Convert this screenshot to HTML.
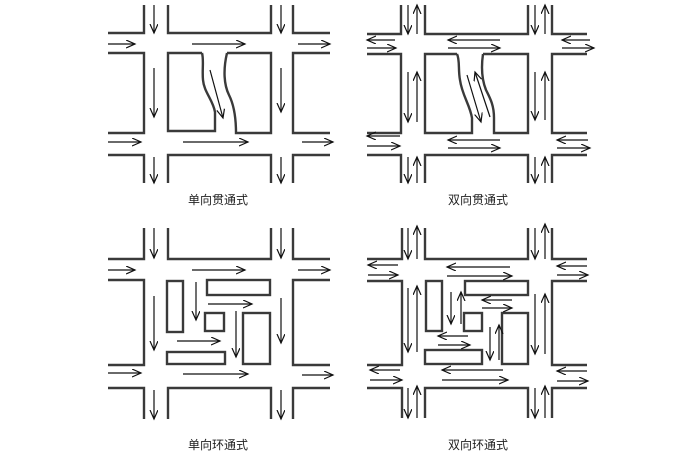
<!DOCTYPE html>
<html><head><meta charset="utf-8"><style>
html,body{margin:0;padding:0;background:#fff;}
svg{display:block}
.r{fill:none;stroke:#3a3a3a;stroke-width:2.4;}
.a{fill:none;stroke:#111;stroke-width:1.2;marker-end:url(#m);}
text{font-family:"Liberation Sans","Noto Sans CJK SC",sans-serif;font-size:12px;fill:#222;}
</style></head><body>
<svg width="700" height="453" viewBox="0 0 700 453" xmlns="http://www.w3.org/2000/svg">
<defs><marker id="m" markerUnits="userSpaceOnUse" markerWidth="12" markerHeight="10" refX="9" refY="4" orient="auto"><path d="M0,0 L9,4 L0,8" fill="none" stroke="#111" stroke-width="1.2"/></marker></defs>

<!-- TL -->
<path class="r" d="M108,33H144V5 M168,5V33H271V5 M293,5V33H330 M108,53H144V133H108 M330,53H293V133H330 M108,155H144V183 M168,183V155H271V183 M293,183V155H330"/>
<path class="r" d="M202,53 L168,53 L168,131 L215,131 L215,112 C213,100 204,92 203,80 C202,70 204,60 202,53 M227,53 L271,53 L271,133 L236,133 C236,118 234,105 229,95 C224,85 223,70 227,53"/>
<path class="a" d="M154,5V33"/><path class="a" d="M154,68V117"/><path class="a" d="M154,157V183"/>
<path class="a" d="M281,5V33"/><path class="a" d="M281,68V112"/><path class="a" d="M281,157V183"/>
<path class="a" d="M108,44H135"/><path class="a" d="M192,44H245"/><path class="a" d="M298,44H330"/>
<path class="a" d="M108,142H141"/><path class="a" d="M183,142H248"/><path class="a" d="M302,142H333"/>
<path class="a" d="M210,70L223,118"/>
<text x="218" y="204" text-anchor="middle">单向贯通式</text>

<!-- TR -->
<path class="r" d="M367,34H401V5 M425,5V34H528V5 M552,5V34H587 M367,54H401V133H367 M587,54H552V133H587 M367,155H401V183 M425,183V155H528V183 M552,183V155H587"/>
<path class="r" d="M457,54 H425 V133 H472 V118 C470,105 462,95 460,80 C458,70 460,60 457,54 M483,54 H528 V133 H494 V118 C494,105 490,98 486,90 C482,80 481,68 483,54"/>
<path class="a" d="M408,5V34"/><path class="a" d="M417,34V5"/>
<path class="a" d="M408,72V122"/><path class="a" d="M417,122V72"/>
<path class="a" d="M408,157V183"/><path class="a" d="M417,183V157"/>
<path class="a" d="M535,5V34"/><path class="a" d="M545,34V5"/>
<path class="a" d="M535,72V120"/><path class="a" d="M545,120V72"/>
<path class="a" d="M535,157V183"/><path class="a" d="M545,183V157"/>
<path class="a" d="M395,40H367"/><path class="a" d="M367,48H396"/>
<path class="a" d="M500,40H448"/><path class="a" d="M448,48H500"/>
<path class="a" d="M590,40H562"/><path class="a" d="M562,48H594"/>
<path class="a" d="M400,136H367"/><path class="a" d="M367,146H400"/>
<path class="a" d="M500,140H448"/><path class="a" d="M448,148H500"/>
<path class="a" d="M588,140H557"/><path class="a" d="M557,148H590"/>
<path class="a" d="M467,75L481,122"/><path class="a" d="M490,117L475,72"/>
<text x="478" y="204" text-anchor="middle">双向贯通式</text>

<!-- BL -->
<path class="r" d="M108,259H144V228 M168,228V259H271V228 M293,228V259H330 M108,280H144V365H108 M330,280H293V365H330 M108,388H144V419 M168,419V388H271V419 M293,419V388H330"/>
<rect class="r" x="167" y="281" width="16" height="51"/>
<rect class="r" x="207" y="280" width="63" height="15"/>
<rect class="r" x="205" y="313" width="19" height="18"/>
<rect class="r" x="243" y="313" width="27" height="51"/>
<rect class="r" x="167" y="352" width="58" height="12"/>
<path class="a" d="M154,228V258"/><path class="a" d="M154,296V350"/><path class="a" d="M154,390V419"/>
<path class="a" d="M281,228V258"/><path class="a" d="M281,298V343"/><path class="a" d="M281,390V419"/>
<path class="a" d="M108,270H135"/><path class="a" d="M192,270H245"/><path class="a" d="M298,270H330"/>
<path class="a" d="M108,373H141"/><path class="a" d="M183,374H248"/><path class="a" d="M302,375H333"/>
<path class="a" d="M208,304H252"/><path class="a" d="M177,341H220"/>
<path class="a" d="M196,282V320"/><path class="a" d="M236,311V357"/>
<text x="218" y="449" text-anchor="middle">单向环通式</text>

<!-- BR -->
<path class="r" d="M367,259H402V228 M425,228V259H528V228 M552,228V259H587 M367,281H402V365H367 M587,281H552V365H587 M367,388H402V418 M425,418V388H528V418 M552,418V388H587"/>
<rect class="r" x="426" y="281" width="16" height="50"/>
<rect class="r" x="465" y="281" width="63" height="14"/>
<rect class="r" x="464" y="313" width="18" height="18"/>
<rect class="r" x="502" y="313" width="26" height="51"/>
<rect class="r" x="425" y="350" width="57" height="14"/>
<path class="a" d="M408,228V259"/><path class="a" d="M417,259V226"/>
<path class="a" d="M408,288V352"/><path class="a" d="M417,352V286"/>
<path class="a" d="M408,388V418"/><path class="a" d="M417,418V386"/>
<path class="a" d="M535,228V259"/><path class="a" d="M545,259V224"/>
<path class="a" d="M535,294V354"/><path class="a" d="M545,354V294"/>
<path class="a" d="M535,388V418"/><path class="a" d="M545,418V386"/>
<path class="a" d="M398,265H368"/><path class="a" d="M368,275H398"/>
<path class="a" d="M510,267H447"/><path class="a" d="M447,276H512"/>
<path class="a" d="M587,266H557"/><path class="a" d="M557,275H588"/>
<path class="a" d="M400,370H370"/><path class="a" d="M370,380H402"/>
<path class="a" d="M503,370H442"/><path class="a" d="M442,380H508"/>
<path class="a" d="M587,371H557"/><path class="a" d="M557,381H588"/>
<path class="a" d="M512,300H482"/><path class="a" d="M482,308H512"/>
<path class="a" d="M468,336H438"/><path class="a" d="M438,345H470"/>
<path class="a" d="M451,292V324"/><path class="a" d="M461,324V292"/>
<path class="a" d="M490,327V360"/><path class="a" d="M499,360V325"/>
<text x="478" y="449" text-anchor="middle">双向环通式</text>
</svg>
</body></html>
